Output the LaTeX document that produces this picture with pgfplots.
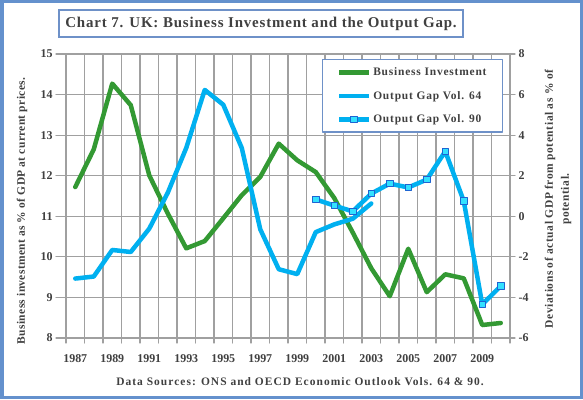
\documentclass[border=0pt]{standalone}
\usepackage{pgfplots}
\pgfplotsset{compat=1.18}
\usepackage{fontspec}
\setmainfont{Liberation Serif}
\definecolor{bigreen}{RGB}{51,153,51}
\definecolor{gapblue}{RGB}{0,176,240}
\definecolor{mkfill}{RGB}{51,225,255}
\definecolor{mkdraw}{RGB}{30,100,210}
\definecolor{frameblue}{RGB}{100,145,205}
\definecolor{boxblue}{RGB}{110,145,200}
\definecolor{txt}{RGB}{64,64,64}
\definecolor{gridgray}{RGB}{160,160,160}

\pgfplotstableread{
year bi
1987 11.72
1988 12.65
1989 14.27
1990 13.74
1991 12.01
1992 11.07
1993 10.21
1994 10.39
1995 10.95
1996 11.52
1997 11.97
1998 12.79
1999 12.38
2000 12.09
2001 11.45
2002 10.60
2003 9.72
2004 9.03
2005 10.20
2006 9.13
2007 9.57
2008 9.47
2009 8.32
2010 8.37
}\bidata
\pgfplotstableread{
year gap
1987 -3.07
1988 -2.97
1989 -1.66
1990 -1.76
1991 -0.61
1992 1.16
1993 3.37
1994 6.23
1995 5.50
1996 3.37
1997 -0.64
1998 -2.61
1999 -2.85
2000 -0.78
2001 -0.40
2002 -0.12
2003 0.63
}\gapsixfour
\pgfplotstableread{
year gap
2000 0.83
2001 0.53
2002 0.24
2003 1.12
2004 1.61
2005 1.42
2006 1.81
2007 3.20
2008 0.75
2009 -4.34
2010 -3.44
}\gapninety

\pgfplotsset{
  common/.style={
    scale only axis, width=444bp, height=284bp,
    at={(66bp,61bp)}, anchor=south west,
    xmin=1986.5, xmax=2010.5,
    tick align=outside,
    axis line style={gridgray, line width=1.2bp},
    tick style={gridgray, line width=1.2bp},
    ticklabel style={font=\bfseries\fontsize{12}{13}\selectfont, text=txt},
    /pgf/number format/assume math mode=true,
    /pgf/number format/1000 sep={},
    line join=round, line cap=round,
  }
}

\begin{document}
\begin{tikzpicture}[x=1bp,y=1bp]
\useasboundingbox (0,0) rectangle (583,399);
\fill[white] (0,0) rectangle (583,399);
\draw[frameblue, line width=3bp] (2,2) rectangle (581,397);
\node[draw=boxblue, line width=2bp, inner sep=0pt, minimum width=404bp, minimum height=26bp, text=txt, font=\bfseries\fontsize{15}{17}\selectfont\addfontfeature{LetterSpace=5.5}] at (261,375.5) {Chart 7. UK: Business Investment and the Output Gap.};

\begin{axis}[common,
  ymin=8, ymax=15, ytick={8,...,15},
  axis y line*=left, axis x line*=bottom,
  ymajorgrids, grid style={gridgray, line width=1.2bp},
  xtick={1987,1989,...,2009},
  major x tick style={draw=none},
  minor xtick={1986.5,1987.5,...,2010.5},
  xminorgrids, minor grid style={gridgray, line width=1.2bp},
  minor tick length=5bp,
  major tick length=10bp,
  xticklabel style={yshift=-3bp},
]
\addplot[bigreen, line width=4.5bp] table[x=year,y=bi]{\bidata};
\end{axis}

\begin{axis}[common,
  ymin=-6, ymax=8, ytick={-6,-4,...,8},
  axis y line*=right, axis x line=none,
  major tick length=5bp,
  legend style={at={(rel axis cs:0.577,0.982)}, anchor=north west,
    draw=boxblue, line width=1.2bp, fill=white,
    font=\bfseries\fontsize{11.5}{13}\selectfont\addfontfeature{LetterSpace=7}, text=txt,
    inner xsep=14bp, inner ysep=6bp, row sep=10bp},
  legend cell align=left,
  legend image code/.code={\draw[mark repeat=2,mark phase=2,#1] plot coordinates {(0bp,0bp) (15bp,0bp) (30bp,0bp)};},
]
\addlegendimage{bigreen, line width=4.5bp}
\addlegendentry{Business Investment}
\addplot[gapblue, line width=4.5bp] table[x=year,y=gap]{\gapsixfour};
\addlegendentry{Output Gap  Vol. 64}
\addplot[gapblue, line width=4.5bp, mark=square*, mark size=3.2bp,
  mark options={fill=mkfill, draw=mkdraw, line width=0.8bp}] table[x=year,y=gap]{\gapninety};
\addlegendentry{Output Gap  Vol. 90}
\end{axis}

\node[rotate=90, text=txt, font=\bfseries\fontsize{11.5}{13}\selectfont\addfontfeature{LetterSpace=3}] at (22,188) {Business investment as \% of GDP at current prices.};
\node[rotate=90, text=txt, align=center, font=\bfseries\fontsize{11.5}{16}\selectfont\addfontfeature{LetterSpace=5}] at (558,200) {Deviations of actual GDP from potential as \% of\\potential.};
\node[text=txt, font=\bfseries\fontsize{11.5}{13}\selectfont\addfontfeature{LetterSpace=9}] at (300,17) {Data Sources: ONS and OECD Economic Outlook Vols. 64 \& 90.};
\end{tikzpicture}
\end{document}
